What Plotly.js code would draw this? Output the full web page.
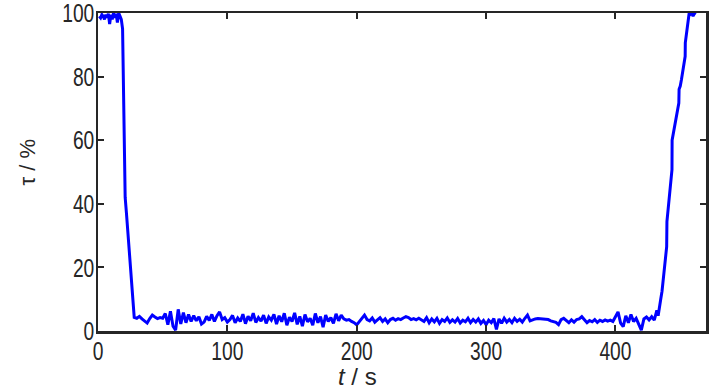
<!DOCTYPE html>
<html>
<head>
<meta charset="utf-8">
<script src="https://cdn.plot.ly/plotly-3.0.1.min.js"></script>
<style>html,body{margin:0;padding:0;background:#fff;}#chart{width:726px;height:390px;}</style>
</head>
<body>
<div id="chart"></div>
<script>
// time (s)
var tHigh = [1,2,3,4,5,6,7,8,9,10,11,12,13,14,15,16,17,18,19,20,21,22,23,24,25,26,27];
var vHigh = [99,98.5,99.5,99,98,99.5,98.5,99.8,96.5,99.5,98,100,98.5,99.8,97,100,99,98,95,70,42,37,31.3,25.6,19.9,14.2,8.4];

var tLow = [28,30,32,34,36,38,40,42,44,46,48,50,
  52,54,56,58,60,62,64,66,68,70,
  72,74,76,78,80,82,84,86,88,90,92,94,96,98,100,
  102,104,106,108,110,112,114,116,118,120,122,124,126,128,130,132,134,136,
  138,140,142,144,146,148,150,152,154,156,158,160,162,164,166,168,170,172,174,176,178,180,182,184,186,188,
  190,192,194,196,198,200,202,204,206,208,210,212,214,216,218,220,222,224,226,228,230,232,234,236,238,240,242,244,246,248,250,
  252,254,256,258,260,262,264,266,268,270,272,274,276,278,280,282,284,286,288,290,292,294,296,298,300,302,304,306,308,310,
  312,314,316,318,320,322,324,326,328,330,332,334,336,338,340,342,344,346,348,350,352,354,356,358,360,
  362,364,366,368,370,372,374,376,378,380,382,384,386,388,390,392,394,396,
  398,400,402,404,406,408,410,412,414,416,418,420,422,424,426,428,430,432];
var vLow = [4.3,4.0,4.6,3.8,3.2,2.5,3.9,5.0,4.4,3.9,4.2,4.0,
  5.5,2.0,6.2,1.5,0.3,6.8,2.2,5.8,2.6,5.2,
  3.0,4.8,3.2,4.5,2.2,2.8,4.6,3.3,5.2,3.0,4.8,6.0,3.6,4.2,2.8,
  3.6,4.9,2.6,4.1,3.0,5.3,2.3,4.6,3.2,5.6,2.7,4.2,3.1,5.0,2.4,4.4,3.4,5.2,
  2.2,4.8,2.9,5.6,1.8,4.3,3.0,5.7,2.1,4.6,1.5,5.2,2.9,4.0,1.8,5.5,2.6,4.5,1.2,5.0,3.0,4.2,2.4,5.4,3.2,5.0,
  3.8,3.4,3.6,3.0,2.6,1.9,3.0,3.8,5.0,3.6,3.2,4.1,2.8,3.5,4.2,3.0,3.8,2.6,3.6,4.0,3.4,3.9,3.6,4.1,4.5,4.2,3.6,3.9,3.5,4.0,3.6,
  3.0,4.2,2.6,3.8,2.9,4.0,2.4,3.6,3.0,4.1,2.7,3.5,2.8,3.9,2.5,3.4,2.9,4.0,2.6,3.6,2.8,3.8,2.4,3.3,2.0,3.4,2.6,3.9,0.5,3.8,
  2.4,4.0,2.8,3.6,2.6,4.0,3.0,3.7,2.8,4.0,5.0,3.2,3.6,3.8,3.9,3.8,3.7,3.8,3.6,3.2,3.0,2.7,2.0,3.6,4.0,
  3.2,2.6,3.5,2.8,3.6,3.8,4.5,3.4,2.6,3.3,2.9,3.6,2.7,3.4,3.0,3.5,3.1,3.4,
  3.0,4.5,6.0,2.5,1.4,4.8,2.6,5.2,3.0,4.0,2.2,0.3,3.8,4.4,3.5,4.5,3.4,6.5];

var tRise = [433,434,435,436,437,438,439,439.6,439.8,441,442,443,443.7,443.8,445,446,447,448,449,449.2,450.1,451,452,453,453.9,454,455,456,457,458,459,460,461,462];
var vRise = [4.8,8,10,12.5,17,21,25,26.5,34.4,39,44,48.5,50.7,60,63,65.5,68,70,71.7,76,77,79,81.5,84,86.4,90.6,93.5,96.8,100,99.6,100,99,99.8,99.5];

var xTicks = [0,100,200,300,400];
var yTicks = [0,20,40,60,80,100];
var xLabel = '<i>t</i> / s';
var yLabel = 'τ / %';

var t = tHigh.concat(tLow, tRise);
var tau = vHigh.concat(vLow, vRise);

var fam = '"Liberation Sans", Arial, sans-serif';
var tickFont = {family: fam, size: 26, color: '#262626'};

var data = [{
  x: t, y: tau, type: 'scatter', mode: 'lines',
  line: {color: '#0000ff', width: 3},
  hoverinfo: 'skip'
}];

var axisCommon = {
  showline: true, linecolor: '#262626', linewidth: 2.5, mirror: 'ticks',
  ticks: 'inside', ticklen: 6, tickwidth: 2, tickcolor: '#262626',
  showgrid: false, zeroline: false, tickfont: tickFont, fixedrange: true,
  ticklabeloverflow: 'allow'
};

var layout = {
  width: 726, height: 390,
  margin: {l: 98, r: 20, t: 13, b: 59},
  paper_bgcolor: '#ffffff', plot_bgcolor: '#ffffff',
  showlegend: false,
  xaxis: Object.assign({}, axisCommon, {
    range: [0, 470], tickvals: xTicks, ticktext: xTicks.map(String),
    ticklabelstandoff: -5
  }),
  yaxis: Object.assign({}, axisCommon, {
    range: [0, 100], tickvals: yTicks, ticktext: yTicks.map(String),
    ticklabelstandoff: -4
  }),
  annotations: [
    {text: xLabel, xref: 'paper', yref: 'paper', x: 0.427, y: 0, yshift: -45,
     xanchor: 'center', yanchor: 'middle', showarrow: false,
     font: {family: fam, size: 24, color: '#262626'}},
    {text: yLabel, xref: 'paper', yref: 'paper', x: -0.116, y: 0.531,
     xanchor: 'center', yanchor: 'middle', showarrow: false, textangle: -90,
     font: {family: fam, size: 22, color: '#262626'}}
  ]
};

function squeeze(sel, sx) {
  document.querySelectorAll(sel).forEach(function (el) {
    var x = parseFloat(el.getAttribute('x') || 0);
    var tr = el.getAttribute('transform') || '';
    el.setAttribute('transform', tr + ' translate(' + x + ',0) scale(' + sx + ',1) translate(' + (-x) + ',0)');
  });
}

Plotly.newPlot('chart', data, layout, {displayModeBar: false, staticPlot: true}).then(function () {
  squeeze('#chart .xtick text, #chart .ytick text', 0.74);
});
</script>
</body>
</html>
